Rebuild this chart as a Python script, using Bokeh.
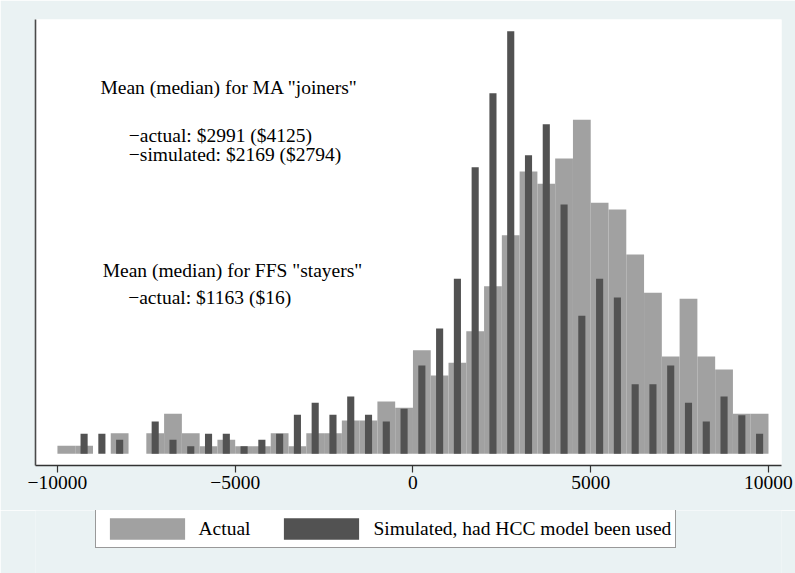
from bokeh.plotting import figure
from bokeh.layouts import column
from bokeh.models import Legend, LegendItem, FixedTicker, Range1d, ColumnDataSource
from bokeh.core.properties import value
from bokeh.embed import file_html
from bokeh.resources import INLINE

# Histogram bins (width 500), left edges from -10000 to 9500
bin_left = list(range(-10000, 10000, 500))
bin_width = 500

# Actual distribution (density, arbitrary scale)
actual = [8, 8, 0, 20.6, 0, 20.6, 40, 20.6, 7.6, 14,
          7.6, 7.6, 20.6, 7.6, 20.6, 20.6, 33.3, 33.3, 52.3, 46,
          103.6, 78.3, 91, 122.6, 167.6, 218.6, 282.3, 270, 295.3, 334,
          251, 244.3, 199.3, 161, 97.3, 155, 97.3, 84.3, 40, 40]

# Simulated distribution, had HCC model been used (same bins)
simulated = [0, 20, 20, 14, 0, 32.3, 14, 7.6, 20, 20,
             7.6, 14, 20, 39, 51, 39, 57.3, 39, 32.3, 45,
             88.3, 125.3, 175, 286.6, 360.6, 422.6, 298.6, 329.6, 249.3, 138,
             175, 156.3, 69.6, 69.6, 88.3, 51, 32.3, 57.3, 38.6, 20]

tick_vals = [-10000, -5000, 0, 5000, 10000]
tick_labels = ["\u221210000", "\u22125000", "0", "5000", "10000"]

ma_lines = ['Mean (median) for MA "joiners"',
            '\u2212actual: $2991 ($4125)',
            '\u2212simulated: $2169 ($2794)']
ffs_lines = ['Mean (median) for FFS "stayers"',
             '\u2212actual: $1163 ($16)']
legend_labels = ["Actual", "Simulated, had HCC model been used"]

FONT = "Liberation Serif"
FS = "19.5px"
GRAY = "#A1A1A1"
DARK = "#525252"
BG = "#EAF2F3"

src_a = ColumnDataSource(dict(left=bin_left,
                              right=[b + bin_width for b in bin_left],
                              top=actual))
src_s = ColumnDataSource(dict(x=[b + bin_width / 2 for b in bin_left],
                              top=simulated))

fig = figure(frame_width=746, frame_height=446,
             output_backend="svg", toolbar_location=None,
             x_range=Range1d(-10617, 10366), y_range=Range1d(-11.7, 434.3),
             min_border_left=35, min_border_right=14, min_border_top=19,
             min_border_bottom=45)
fig.background_fill_color = "white"
fig.border_fill_color = BG
fig.outline_line_color = None
fig.xgrid.visible = False
fig.ygrid.visible = False

fig.quad(left="left", right="right", bottom=0, top="top", source=src_a,
         fill_color=GRAY, line_color=None)
fig.vbar(x="x", width=200, bottom=0, top="top", source=src_s,
         fill_color=DARK, line_color=None)

# x axis
xa = fig.xaxis[0]
xa.ticker = FixedTicker(ticks=tick_vals)
xa.major_label_overrides = {v: l for v, l in zip(tick_vals, tick_labels)}
xa.major_tick_out = 7
xa.major_tick_in = 0
xa.minor_tick_line_color = None
xa.axis_line_color = "#333333"
xa.axis_line_width = 1.3
xa.major_tick_line_color = "#333333"
xa.major_tick_line_width = 1.2
xa.major_label_text_font = FONT
xa.major_label_text_font_size = FS
xa.major_label_text_color = "black"
xa.major_label_standoff = 3

# y axis: line only
ya = fig.yaxis[0]
ya.ticker = FixedTicker(ticks=[])
ya.major_tick_line_color = None
ya.minor_tick_line_color = None
ya.axis_line_color = "#4a4a4a"
ya.axis_line_width = 1.6

# annotations
fig.text(x=[-8790, -7993, -7993], y=[366.8, 318.5, 299.3], text=ma_lines,
         text_font=value(FONT), text_font_size=FS, text_color="black",
         text_align="left", text_baseline="middle")
fig.text(x=[-8728, -8010], y=[183.3, 156.3], text=ffs_lines,
         text_font=value(FONT), text_font_size=FS, text_color="black",
         text_align="left", text_baseline="middle")

# legend strip below the chart (proxy glyphs lie outside its visible range)
leg = figure(width=795, height=63, output_backend="svg", toolbar_location=None,
             x_axis_type=None, y_axis_type=None,
             x_range=Range1d(0, 1), y_range=Range1d(0, 1), min_border=0)
leg.background_fill_color = BG
leg.border_fill_color = BG
leg.outline_line_color = None
leg.xgrid.visible = False
leg.ygrid.visible = False
proxy = ColumnDataSource(dict(left=[5], right=[6], bottom=[5], top=[6]))
lr_a = leg.quad(left="left", right="right", bottom="bottom", top="top",
                source=proxy, fill_color=GRAY, line_color=None)
lr_s = leg.quad(left="left", right="right", bottom="bottom", top="top",
                source=proxy, fill_color=DARK, line_color=None)

legend = Legend(items=[LegendItem(label=legend_labels[0], renderers=[lr_a]),
                       LegendItem(label=legend_labels[1], renderers=[lr_s])],
                orientation="horizontal", location=(59.5, 25),
                glyph_width=94, glyph_height=27, label_standoff=5, spacing=24,
                padding=4, margin=0, label_height=29,
                border_line_color="#333333", border_line_width=1.5,
                background_fill_color="white", background_fill_alpha=1.0,
                label_text_font=FONT, label_text_font_size=FS,
                label_text_color="black")
leg.add_layout(legend, "center")

p = column(fig, leg, spacing=0)

open("out.html", "w").write(file_html(p, INLINE))
